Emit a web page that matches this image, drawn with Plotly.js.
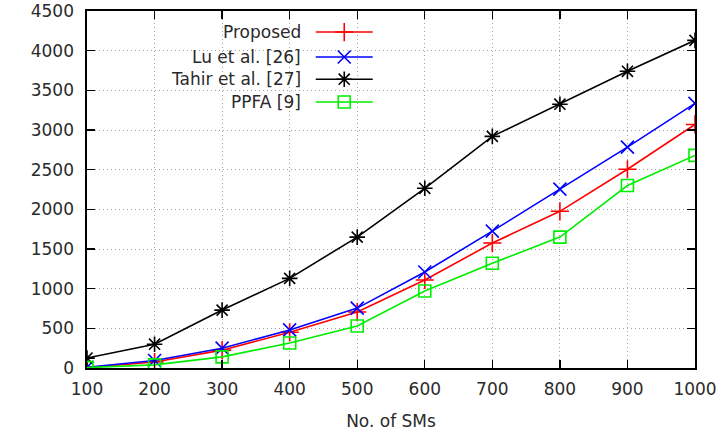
<!DOCTYPE html>
<html>
<head>
<meta charset="utf-8">
<script src="https://cdn.plot.ly/plotly-3.0.1.min.js"></script>
<style>html,body{margin:0;padding:0;background:#fff;}#chart{width:723px;height:431px;}</style>
</head>
<body>
<div id="chart"></div>
<script>
const sms = [100, 200, 300, 400, 500, 600, 700, 800, 900, 1000];
const proposed = [5, 75, 225, 450, 705, 1110, 1575, 1975, 2505, 3070];
const lu = [10, 95, 250, 480, 755, 1210, 1725, 2255, 2785, 3335];
const tahir = [125, 300, 730, 1130, 1650, 2265, 2920, 3325, 3740, 4130];
const ppfa = [5, 40, 140, 315, 530, 970, 1320, 1650, 2300, 2680];
const seriesNames = ['Proposed', 'Lu et al. [26]', 'Tahir et al. [27]', 'PPFA [9]'];
const colors = ['#ff0000', '#0000ff', '#000000', '#00ee00'];
const symbols = ['cross-thin-open', 'x-thin-open', 'asterisk-open', 'square-open'];
const values = [proposed, lu, tahir, ppfa];

const legendIds = ['legend', 'legend2', 'legend3', 'legend4'];
const rowY = [0.941, 0.871, 0.809, 0.745];
const FONT = 'DejaVu Sans';
const TXT = '#2a2a2a';

const traces = values.map((v, i) => ({
  x: sms, y: v, type: 'scatter', mode: 'lines+markers',
  name: ' ', legend: legendIds[i],
  line: {color: colors[i], width: 1.6},
  marker: {symbol: symbols[i], size: i === 3 ? 12 : 13, color: colors[i], line: {color: colors[i], width: 1.6}}
}));

const annotations = seriesNames.map((n, i) => ({
  text: n, xref: 'paper', yref: 'paper', x: 0.355, y: rowY[i],
  xanchor: 'right', yanchor: 'middle', showarrow: false,
  font: {family: FONT, size: 17, color: TXT}
}));

const axisCommon = {
  showline: true, linecolor: '#000', linewidth: 1.6, mirror: 'ticks',
  ticks: 'inside', ticklen: 8, tickcolor: '#000', tickwidth: 1.3,
  showgrid: true, gridcolor: '#a0a0a0', griddash: '1px,3px', gridwidth: 1,
  zeroline: false,
  tickfont: {family: FONT, size: 17, color: TXT}
};

const layout = {
  width: 723, height: 431,
  margin: {l: 87, r: 28, t: 11, b: 63},
  paper_bgcolor: '#fff', plot_bgcolor: '#fff',
  showlegend: true,
  xaxis: Object.assign({}, axisCommon, {
    range: [100, 1000], tickvals: sms, ticktext: sms.map(String), ticklabelstandoff: 5,
    title: {text: 'No. of SMs', font: {family: FONT, size: 17, color: TXT}, standoff: 18}
  }),
  yaxis: Object.assign({}, axisCommon, {
    range: [0, 4500], dtick: 500, ticklabelstandoff: 8
  }),
  annotations: annotations
};
legendIds.forEach((id, i) => {
  layout[id] = {x: 0.368, y: rowY[i], xanchor: 'left', yanchor: 'middle', bgcolor: 'rgba(0,0,0,0)',
    itemwidth: 57, font: {family: FONT, size: 12}};
});

Plotly.newPlot('chart', traces, layout, {displayModeBar: false, staticPlot: true});
</script>
</body>
</html>
